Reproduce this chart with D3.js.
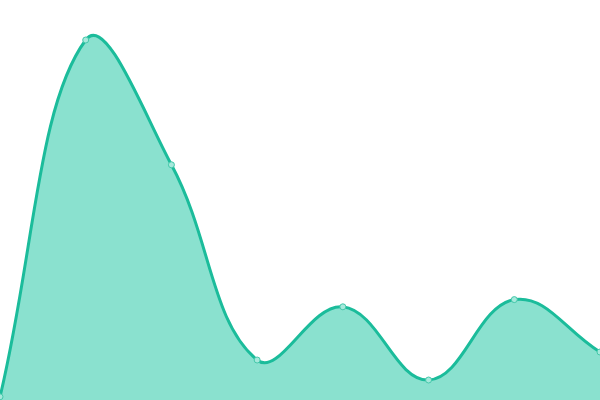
<!DOCTYPE html>
<html>
<head>
<meta charset="utf-8">
<script src="https://cdn.jsdelivr.net/npm/d3@7"></script>
<style>
html,body{margin:0;padding:0;background:#fff;overflow:hidden}
svg{display:block}
</style>
</head>
<body>
<svg id="chart" width="600" height="400"></svg>
<script>
const categories = ["A", "B", "C", "D", "E", "F", "G", "H"];
const values = [0.8, 90, 58.8, 10, 23.3, 5, 25.1, 12];
const yDomain = [0, 100];

const width = 600, height = 400;
const svg = d3.select("#chart");

const x = d3.scalePoint().domain(categories).range([0, width]);
const y = d3.scaleLinear().domain(yDomain).range([height, 0]);

// Custom d3 curve: distance-weighted cardinal spline (tension 0.4)
function SplineCurve(context, tension) {
  this._context = context;
  this._t = tension;
}
SplineCurve.prototype = {
  areaStart() { this._line = 0; },
  areaEnd() { this._line = NaN; },
  lineStart() { this._pts = []; },
  point(px, py) { this._pts.push([+px, +py]); },
  lineEnd() {
    const p = this._pts, n = p.length, c = this._context, t = this._t;
    if (n) {
      if (this._line) c.lineTo(p[0][0], p[0][1]); else c.moveTo(p[0][0], p[0][1]);
      if (n === 2) {
        c.lineTo(p[1][0], p[1][1]);
      } else if (n > 2) {
        const cps = p.map((cur, i) => {
          const prev = p[Math.max(0, i - 1)], next = p[Math.min(n - 1, i + 1)];
          const d01 = Math.hypot(cur[0] - prev[0], cur[1] - prev[1]);
          const d12 = Math.hypot(next[0] - cur[0], next[1] - cur[1]);
          let s01 = d01 / (d01 + d12), s12 = d12 / (d01 + d12);
          if (!isFinite(s01)) s01 = 0;
          if (!isFinite(s12)) s12 = 0;
          const fa = t * s01, fb = t * s12;
          const clampX = v => Math.max(0, Math.min(width, v));
          const clampY = v => Math.max(0, Math.min(height, v));
          return {
            px: clampX(cur[0] - fa * (next[0] - prev[0])),
            py: clampY(cur[1] - fa * (next[1] - prev[1])),
            nx: clampX(cur[0] + fb * (next[0] - prev[0])),
            ny: clampY(cur[1] + fb * (next[1] - prev[1]))
          };
        });
        for (let i = 1; i < n; i++) {
          c.bezierCurveTo(cps[i - 1].nx, cps[i - 1].ny, cps[i].px, cps[i].py, p[i][0], p[i][1]);
        }
      }
    }
    if (this._line || (this._line !== 0 && n === 1)) c.closePath();
    this._line = 1 - this._line;
  }
};
const curve = ctx => new SplineCurve(ctx, 0.4);

const area = d3.area()
  .x((d, i) => x(categories[i]))
  .y0(height)
  .y1(d => y(d))
  .curve(curve);

const line = d3.line()
  .x((d, i) => x(categories[i]))
  .y(d => y(d))
  .curve(curve);

svg.append("path")
  .datum(values)
  .attr("d", area)
  .attr("fill", "#8ae1cf");

svg.append("path")
  .datum(values)
  .attr("d", line)
  .attr("fill", "none")
  .attr("stroke", "#1bbc9b")
  .attr("stroke-width", 3)
  .attr("stroke-linejoin", "round");

svg.selectAll("circle")
  .data(values)
  .join("circle")
  .attr("cx", (d, i) => x(categories[i]))
  .attr("cy", d => y(d))
  .attr("r", 3)
  .attr("fill", "#a6e9dc")
  .attr("stroke", "#45c8aa")
  .attr("stroke-width", 1);
</script>
</body>
</html>
